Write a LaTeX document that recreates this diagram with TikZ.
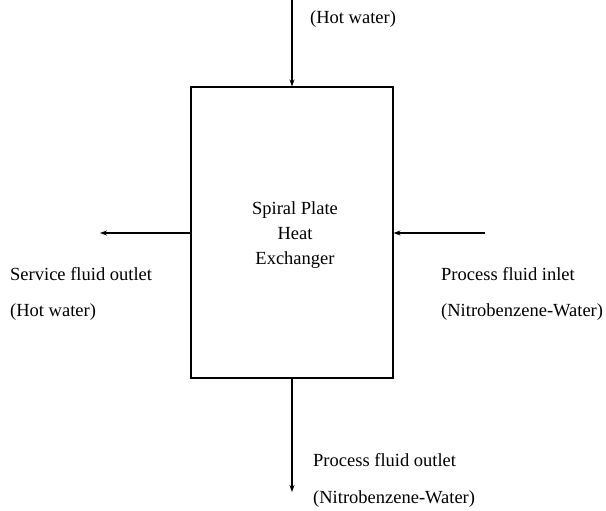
\documentclass[tikz,border=0pt]{standalone}
\usepackage{fontspec}
\setmainfont{Liberation Serif}
\usetikzlibrary{arrows.meta}
\begin{document}
\begin{tikzpicture}[x=1pt,y=-1pt,
  flow/.style={line width=1.1pt,-{Stealth[length=7pt,width=5pt]}},
  lbl/.style={anchor=base west,inner sep=0pt,font=\fontsize{18.5}{22}\selectfont},
  hx/.style={draw,line width=1.1pt,minimum width=202pt,minimum height=291pt,inner sep=0pt}]
\useasboundingbox (0,0) rectangle (606,511);
\node[hx] (box) at (292,232.5) {};
\node[anchor=base,inner sep=0pt,align=center,font=\fontsize{18.5}{25}\selectfont] (t) at (295,264) {Spiral Plate\\Heat\\Exchanger};
\coordinate (topin) at (292,0);
\coordinate (leftout) at (100,233);
\coordinate (rightin) at (485,233);
\coordinate (botout) at (292,492);
\draw[flow] (topin) -- (box.north);
\draw[flow] (box.west|-leftout) -- (leftout);
\draw[flow] (rightin) -- (box.east|-rightin);
\draw[flow] (box.south) -- (botout);
\node[lbl] (l1) at (310,24) {(Hot water)};
\node[lbl] (l2) at (10,280) {Service fluid outlet};
\node[lbl] (l3) at (10,316) {(Hot water)};
\node[lbl] (l4) at (441,280) {Process fluid inlet};
\node[lbl] (l5) at (441,316) {(Nitrobenzene-Water)};
\node[lbl] (l6) at (313,466) {Process fluid outlet};
\node[lbl] (l7) at (313,503) {(Nitrobenzene-Water)};
\end{tikzpicture}
\end{document}
